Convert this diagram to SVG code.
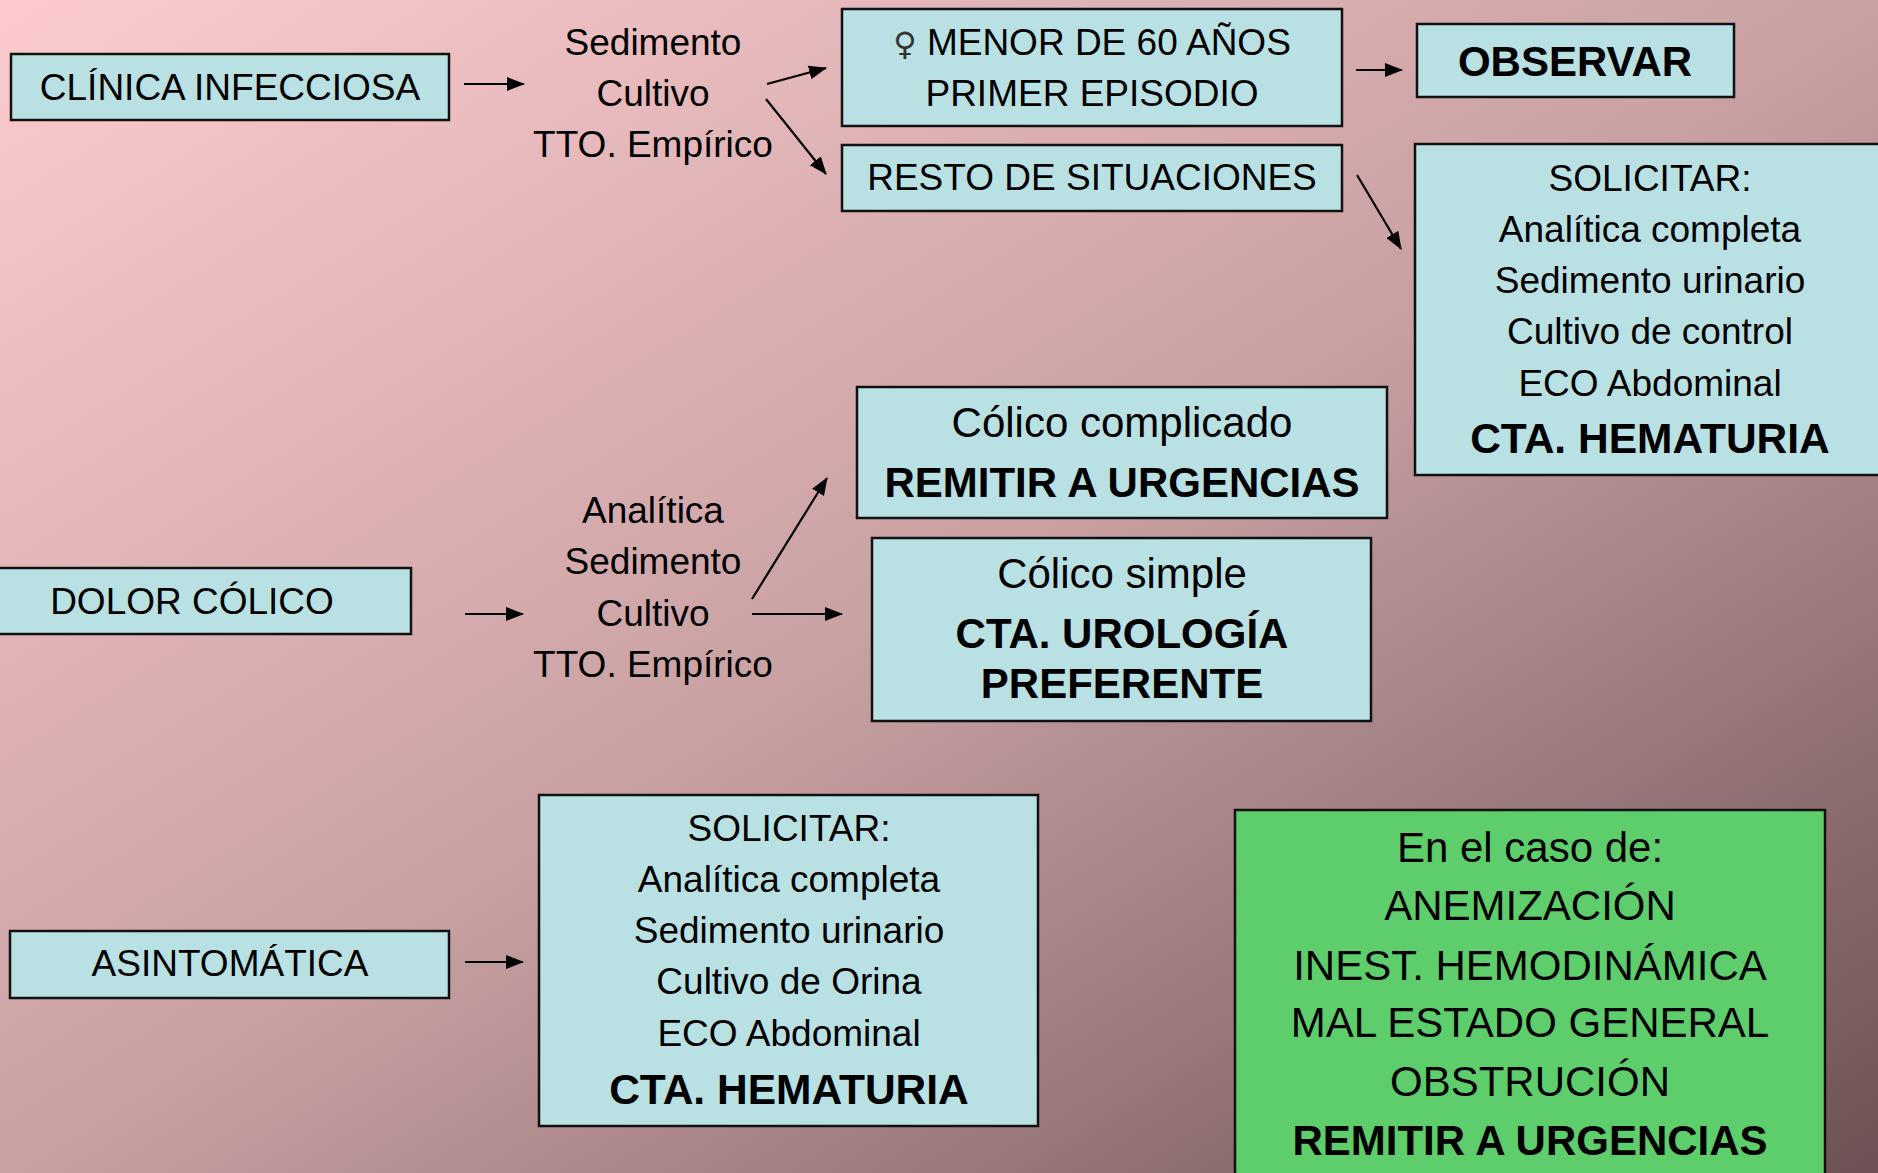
<svg xmlns="http://www.w3.org/2000/svg" width="1878" height="1173" viewBox="0 0 1878 1173">
<defs>
<linearGradient id="bg" x1="0" y1="0" x2="1" y2="1">
<stop offset="0" stop-color="#FDCBCE"/>
<stop offset="0.5" stop-color="#C9A1A3"/>
<stop offset="1" stop-color="#6C5254"/>
</linearGradient>
<marker id="ah" viewBox="0 0 18 14" refX="17" refY="7" markerWidth="18" markerHeight="14" markerUnits="userSpaceOnUse" orient="auto">
<path d="M0,0 L18,7 L0,14 Z" fill="#000"/>
</marker>
</defs>
<style>
.box{fill:#B9E0E3;stroke:#111;stroke-width:2.5}
.green{fill:#5DCE6B;stroke:#111;stroke-width:2.5}
text{font-family:"Liberation Sans",Arial,sans-serif;fill:#000;text-anchor:middle}
.t37{font-size:37px}
.t42{font-size:42px}
.b41{font-size:42.5px;font-weight:bold}
.b42{font-size:42px;font-weight:bold}
.edge{stroke:#000;stroke-width:2.2;fill:none;marker-end:url(#ah)}
.sym{font-family:"DejaVu Sans",sans-serif;fill:#333;font-size:32px}
</style>
<rect x="0" y="0" width="1878" height="1173" fill="url(#bg)"/>

<g id="clinica">
<rect class="box" x="11" y="54" width="438" height="66"/>
<text class="t37" x="230" y="100">CLÍNICA INFECCIOSA</text>
</g>

<g id="pruebas1">
<text class="t37" x="653" y="55">Sedimento</text>
<text class="t37" x="653" y="106">Cultivo</text>
<text class="t37" x="653" y="157">TTO. Empírico</text>
</g>

<g id="menor">
<rect class="box" x="842" y="9" width="500" height="117"/>
<text class="t37" x="1092" y="55"><tspan class="sym">♀</tspan> MENOR DE 60 AÑOS</text>
<text class="t37" x="1092" y="106">PRIMER EPISODIO</text>
</g>

<g id="resto">
<rect class="box" x="842" y="145" width="500" height="66"/>
<text class="t37" x="1092" y="190">RESTO DE SITUACIONES</text>
</g>

<g id="observar">
<rect class="box" x="1417" y="24" width="317" height="73"/>
<text class="b42" x="1575" y="76">OBSERVAR</text>
</g>

<g id="solicitar1">
<rect class="box" x="1415" y="144" width="480" height="331"/>
<text class="t37" x="1650" y="191">SOLICITAR:</text>
<text class="t37" x="1650" y="242">Analítica completa</text>
<text class="t37" x="1650" y="293">Sedimento urinario</text>
<text class="t37" x="1650" y="344">Cultivo de control</text>
<text class="t37" x="1650" y="396">ECO Abdominal</text>
<text class="b41" x="1650" y="453">CTA. HEMATURIA</text>
</g>

<g id="dolor">
<rect class="box" x="-5" y="568" width="416" height="66"/>
<text class="t37" x="192" y="614">DOLOR CÓLICO</text>
</g>

<g id="pruebas2">
<text class="t37" x="653" y="523">Analítica</text>
<text class="t37" x="653" y="574">Sedimento</text>
<text class="t37" x="653" y="626">Cultivo</text>
<text class="t37" x="653" y="677">TTO. Empírico</text>
</g>

<g id="complicado">
<rect class="box" x="857" y="387" width="530" height="131"/>
<text class="t42" x="1122" y="437">Cólico complicado</text>
<text class="b42" x="1122" y="497">REMITIR A URGENCIAS</text>
</g>

<g id="simple">
<rect class="box" x="872" y="538" width="499" height="183"/>
<text class="t42" x="1122" y="588">Cólico simple</text>
<text class="b42" x="1122" y="648">CTA. UROLOGÍA</text>
<text class="b42" x="1122" y="698">PREFERENTE</text>
</g>

<g id="asintomatica">
<rect class="box" x="10" y="931" width="439" height="67"/>
<text class="t37" x="230" y="976">ASINTOMÁTICA</text>
</g>

<g id="solicitar2">
<rect class="box" x="539" y="795" width="499" height="331"/>
<text class="t37" x="789" y="841">SOLICITAR:</text>
<text class="t37" x="789" y="892">Analítica completa</text>
<text class="t37" x="789" y="943">Sedimento urinario</text>
<text class="t37" x="789" y="994">Cultivo de Orina</text>
<text class="t37" x="789" y="1046">ECO Abdominal</text>
<text class="b41" x="789" y="1104">CTA. HEMATURIA</text>
</g>

<g id="urgencias">
<rect class="green" x="1235" y="810" width="590" height="380"/>
<text class="t42" x="1530" y="862">En el caso de:</text>
<text class="t42" x="1530" y="920">ANEMIZACIÓN</text>
<text class="t42" x="1530" y="980">INEST. HEMODINÁMICA</text>
<text class="t42" x="1530" y="1037">MAL ESTADO GENERAL</text>
<text class="t42" x="1530" y="1096">OBSTRUCIÓN</text>
<text class="b42" x="1530" y="1155">REMITIR A URGENCIAS</text>
</g>

<g id="connectors">
<line class="edge" x1="464" y1="84" x2="524" y2="84"/>
<line class="edge" x1="767" y1="84" x2="826" y2="68"/>
<line class="edge" x1="766" y1="99" x2="826" y2="174"/>
<line class="edge" x1="1356" y1="70" x2="1402" y2="70"/>
<line class="edge" x1="1357" y1="175" x2="1401" y2="249"/>
<line class="edge" x1="465" y1="614" x2="523" y2="614"/>
<line class="edge" x1="752" y1="599" x2="827" y2="478"/>
<line class="edge" x1="752" y1="614" x2="842" y2="614"/>
<line class="edge" x1="465" y1="962" x2="523" y2="962"/>
</g>
</svg>
